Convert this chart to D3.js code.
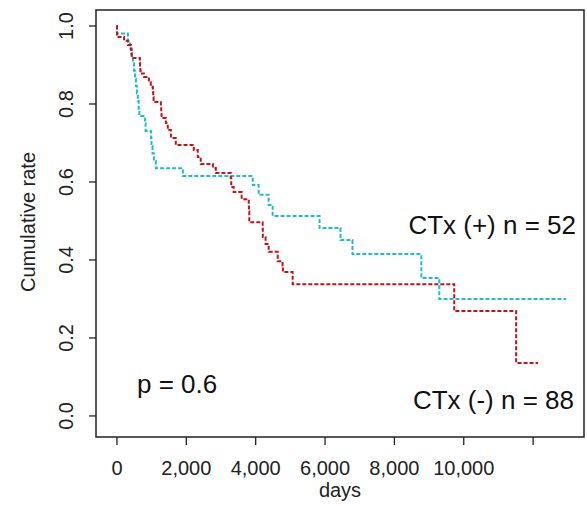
<!DOCTYPE html>
<html>
<head>
<meta charset="utf-8">
<script src="https://cdn.jsdelivr.net/npm/d3@7"></script>
<style>
  body { margin: 0; background: #fff; }
  svg { font-family: "Liberation Sans", Arial, sans-serif; }
</style>
</head>
<body>
<svg id="chart" width="587" height="506"></svg>
<script>
// step curves (day, cumulative rate after the step)
var cyanDays = [0, 15, 330, 390, 440, 475, 505, 535, 560, 590, 615, 640, 660, 820, 840, 993, 1010, 1040, 1080, 1137, 1914, 3930, 4100, 4388, 4504, 5856, 6460, 6806, 8791, 9309, 12964];
var cyanRate = [1.0, 0.981, 0.962, 0.942, 0.923, 0.904, 0.885, 0.865, 0.846, 0.827, 0.808, 0.788, 0.769, 0.750, 0.731, 0.712, 0.692, 0.673, 0.654, 0.635, 0.615, 0.592, 0.567, 0.541, 0.513, 0.482, 0.451, 0.415, 0.354, 0.300, 0.300];

var redDays = [0, 15, 220, 330, 420, 430, 440, 675, 680, 690, 700, 790, 935, 990, 1050, 1060, 1070, 1280, 1290, 1300, 1425, 1480, 1570, 1710, 2230, 2345, 2430, 2780, 2865, 3295, 3310, 3380, 3610, 3815, 3820, 3830, 4215, 4220, 4300, 4390, 4650, 4790, 4800, 5080, 9740, 11525, 12160];
var redRate = [1.0, 0.972, 0.962, 0.951, 0.940, 0.930, 0.918, 0.906, 0.895, 0.884, 0.878, 0.869, 0.856, 0.844, 0.831, 0.818, 0.805, 0.792, 0.779, 0.764, 0.751, 0.733, 0.713, 0.695, 0.682, 0.664, 0.646, 0.636, 0.623, 0.610, 0.587, 0.574, 0.556, 0.540, 0.525, 0.497, 0.479, 0.459, 0.441, 0.421, 0.397, 0.385, 0.369, 0.338, 0.269, 0.136, 0.136];

var xTicks = [0, 2000, 4000, 6000, 8000, 10000, 12000];
var xTickLabels = ["0", "2,000", "4,000", "6,000", "8,000", "10,000", ""];
var yTicks = [0, 0.2, 0.4, 0.6, 0.8, 1.0];

function drawChart() {
  var svg = d3.select("#chart");

  // plot box
  var boxLeft = 96, boxRight = 584, boxTop = 10, boxBottom = 437;

  var x = d3.scaleLinear().domain([-590, 13482]).range([boxLeft, boxRight]);
  var y = d3.scaleLinear().domain([-0.054, 1.041]).range([boxBottom, boxTop]);

  // y axis
  var yAxis = svg.append("g")
    .attr("transform", "translate(" + boxLeft + ",0)")
    .call(d3.axisLeft(y).tickValues(yTicks).tickSize(7).tickFormat(d3.format(".1f")));
  yAxis.select(".domain").remove();
  yAxis.selectAll("line").attr("stroke", "#222").attr("stroke-width", 1.3);
  yAxis.selectAll(".tick").attr("transform", null);
  yAxis.selectAll(".tick line")
    .attr("y1", function(d) { return y(d); })
    .attr("y2", function(d) { return y(d); });
  yAxis.selectAll(".tick text")
    .attr("font-size", 20)
    .attr("fill", "#222")
    .attr("text-anchor", "middle")
    .attr("x", 0).attr("y", 0).attr("dy", 0)
    .attr("transform", function(d) { return "translate(-23," + y(d) + ") rotate(-90)"; });

  // x axis
  var xAxis = svg.append("g")
    .attr("transform", "translate(0," + boxBottom + ")")
    .call(d3.axisBottom(x).tickValues(xTicks).tickSize(8)
      .tickFormat(function(d, i) { return xTickLabels[i]; }));
  xAxis.select(".domain").remove();
  xAxis.selectAll("line").attr("stroke", "#222").attr("stroke-width", 1.3);
  xAxis.selectAll("text")
    .attr("font-size", 20)
    .attr("fill", "#222")
    .attr("y", 38).attr("dy", 0);

  // box
  svg.append("rect")
    .attr("x", boxLeft).attr("y", boxTop)
    .attr("width", boxRight - boxLeft).attr("height", boxBottom - boxTop)
    .attr("fill", "none").attr("stroke", "#222").attr("stroke-width", 1.5);

  // curves
  var line = d3.line()
    .x(function(d) { return x(d[0]); })
    .y(function(d) { return y(d[1]); })
    .curve(d3.curveStepAfter);

  svg.append("path")
    .datum(d3.zip(cyanDays, cyanRate))
    .attr("d", line)
    .attr("fill", "none")
    .attr("stroke", "#1fbdc4")
    .attr("stroke-width", 2)
    .attr("stroke-dasharray", "4,2");

  svg.append("path")
    .datum(d3.zip(redDays, redRate))
    .attr("d", line)
    .attr("fill", "none")
    .attr("stroke", "#c0141a")
    .attr("stroke-width", 2)
    .attr("stroke-dasharray", "4,2");

  // axis titles
  svg.append("text")
    .attr("x", 340).attr("y", 497)
    .attr("text-anchor", "middle")
    .attr("font-size", 20).attr("fill", "#222")
    .text("days");

  svg.append("text")
    .attr("transform", "translate(35,222) rotate(-90)")
    .attr("text-anchor", "middle")
    .attr("font-size", 20).attr("fill", "#222")
    .text("Cumulative rate");

  // annotations
  svg.append("text")
    .attr("x", 576).attr("y", 234)
    .attr("text-anchor", "end")
    .attr("font-size", 26).attr("fill", "#111")
    .text("CTx (+) n = 52");

  svg.append("text")
    .attr("x", 574).attr("y", 409)
    .attr("text-anchor", "end")
    .attr("font-size", 26).attr("fill", "#111")
    .text("CTx (-) n = 88");

  svg.append("text")
    .attr("x", 137).attr("y", 393)
    .attr("font-size", 26).attr("fill", "#111")
    .text("p = 0.6");
}

drawChart();
</script>
</body>
</html>
